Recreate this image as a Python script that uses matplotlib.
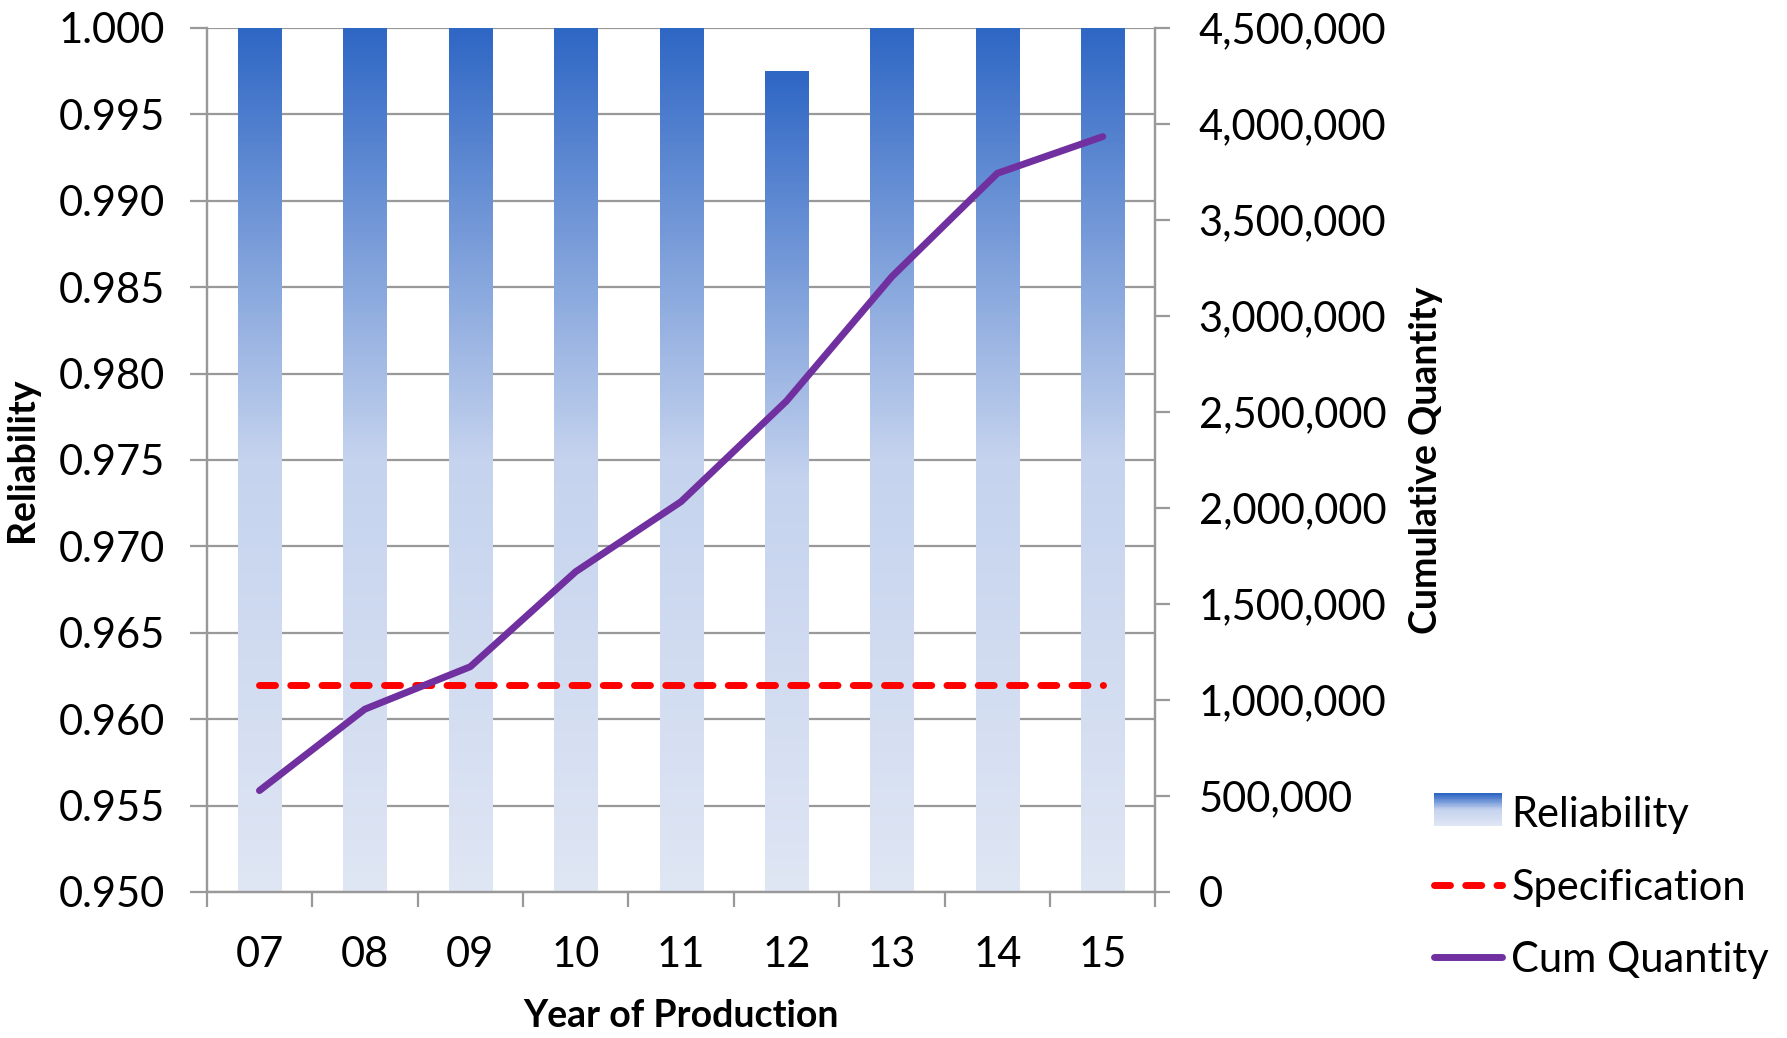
import numpy as np
import matplotlib
matplotlib.use("Agg")
import matplotlib.pyplot as plt
from matplotlib.colors import LinearSegmentedColormap
from matplotlib.legend_handler import HandlerBase
from matplotlib.lines import Line2D
from matplotlib.patches import Rectangle
from matplotlib.ticker import FuncFormatter, MultipleLocator

plt.rcParams['font.family'] = ['Lato', 'DejaVu Sans']

years = ["07", "08", "09", "10", "11", "12", "13", "14", "15"]
reliability = [1.000, 1.000, 1.000, 1.000, 1.000, 0.9975, 1.000, 1.000, 1.000]
specification = [0.962] * 9
cum_quantity = [528000, 952000, 1173000, 1668000, 2033000, 2557000, 3205000, 3743000, 3934000]

blue_grad = LinearSegmentedColormap.from_list(
    "bluegrad", [(0.0, "#DFE6F4"), (0.5, "#C5D3EE"), (1.0, "#2F67C5")])
grid_col = "#999999"

fig = plt.figure(figsize=(17.87, 10.38), dpi=100)
ax = fig.add_axes([0.1157, 0.1407, 0.5309, 0.8324])
ax2 = ax.twinx()

x = np.arange(len(years))
ymin = 0.950
bars = ax.bar(x, np.array(reliability) - ymin, bottom=ymin, width=0.41,
              color="none", edgecolor="none", zorder=2)

# vertical gradient fill for each bar
grad = np.linspace(0, 1, 256).reshape(-1, 1)
for b in bars:
    x0, y0, w, h = b.get_x(), b.get_y(), b.get_width(), b.get_height()
    ax.imshow(grad, cmap=blue_grad, origin="lower", aspect="auto",
              extent=(x0, x0 + w, y0, y0 + h), zorder=2, interpolation="bilinear")

ax.plot(x, specification, color="#FF0000", lw=5, dashes=(2.3, 2.2),
        dash_capstyle="round", zorder=3)
ax2.plot(x, cum_quantity, color="#7030A0", lw=5, solid_capstyle="round",
         solid_joinstyle="round", zorder=4)

ax.set_xlim(-0.5, len(years) - 0.5)
ax.set_ylim(0.950, 1.000)
ax2.set_ylim(0, 4500000)

ax.set_axisbelow(True)
ax.yaxis.set_major_locator(MultipleLocator(0.005))
ax.yaxis.set_major_formatter(FuncFormatter(lambda v, p: f"{v:.3f}"))
ax.grid(axis="y", color=grid_col, lw=1.6)
ax2.yaxis.set_major_locator(MultipleLocator(500000))
ax2.yaxis.set_major_formatter(FuncFormatter(lambda v, p: f"{v:,.0f}"))

ax.set_xticks(x)
ax.set_xticklabels(years)
ax.set_xticks(np.arange(-0.5, len(years)), minor=True)
ax.tick_params(axis="x", which="major", length=0, pad=32, labelsize=30)
ax.tick_params(axis="x", which="minor", length=11, width=1.6, color=grid_col)
ax.tick_params(axis="y", length=12, width=1.6, color=grid_col, labelsize=30, pad=18)
ax2.tick_params(axis="y", length=11, width=1.6, color=grid_col, labelsize=30, pad=20)

for a in (ax, ax2):
    a.spines["top"].set_visible(False)
    for s in ("left", "right", "bottom"):
        a.spines[s].set_color(grid_col)
        a.spines[s].set_linewidth(1.6)

ax.set_xlabel("Year of Production", fontsize=27, fontweight="bold", labelpad=18)
ax.set_ylabel("Reliability", fontsize=27, fontweight="bold", labelpad=14)
ax2.set_ylabel("Cumulative Quantity", fontsize=27, fontweight="bold", labelpad=16)


class GradientHandler(HandlerBase):
    def create_artists(self, legend, orig, xd, yd, width, height, fontsize, trans):
        n = 40
        parts = []
        for i in range(n):
            parts.append(Rectangle((xd, yd + height * i / n), width, height / n + 0.3,
                                   facecolor=blue_grad(i / (n - 1)), edgecolor="none",
                                   transform=trans))
        return parts


rel_handle = Rectangle((0, 0), 1, 1)
spec_handle = Line2D([], [], color="#FF0000", lw=5, dashes=(2.3, 2.2), dash_capstyle="round")
cum_handle = Line2D([], [], color="#7030A0", lw=5, solid_capstyle="round")
fig.legend([rel_handle, spec_handle, cum_handle],
           ["Reliability", "Specification", "Cum Quantity"],
           handler_map={Rectangle: GradientHandler()},
           loc="lower left", bbox_to_anchor=(0.8025, 0.0565), frameon=False,
           fontsize=30, handlelength=1.63, handleheight=0.8, handletextpad=0.22,
           labelspacing=0.83, borderaxespad=0, borderpad=0)

fig.savefig("out.png", dpi=100)
